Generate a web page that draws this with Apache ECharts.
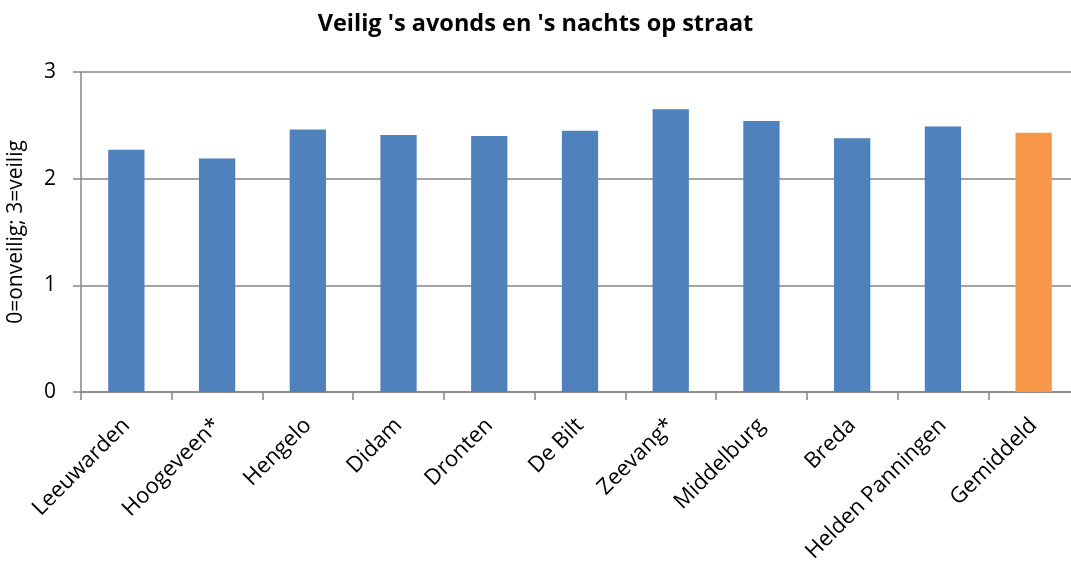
<!DOCTYPE html>
<html>
<head>
<meta charset="utf-8">
<script src="https://cdn.jsdelivr.net/npm/echarts@6/dist/echarts.min.js"></script>
<style>
    html, body { margin: 0; padding: 0; background: #fff; }
    #chart { width: 1071px; height: 561px; }
</style>
</head>
<body>
<div id="chart"></div>
<script>
// categorieën (gemeenten) en scores
const categories = ['Leeuwarden', 'Hoogeveen*', 'Hengelo', 'Didam', 'Dronten', 'De Bilt', 'Zeevang*', 'Middelburg', 'Breda', 'Helden Panningen', 'Gemiddeld'];
const scores = [2.27, 2.19, 2.46, 2.41, 2.40, 2.45, 2.65, 2.54, 2.38, 2.49, 2.43];
const highlightCategory = 'Gemiddeld';
const yMin = 0;
const yMax = 3;
const yStep = 1;

const fontFamily = '"Open Sans", sans-serif';
const axisGrey = '#868686';

const chartInstance = echarts.init(document.getElementById('chart'));

const option = {
    animation: false,
    title: {
        text: "Veilig 's avonds en 's nachts op straat",
        left: 'center',
        top: 7,
        textStyle: {
            fontFamily: fontFamily,
            fontSize: 23.5,
            fontWeight: 'bold',
            color: '#000',
        },
    },
    grid: {
        left: 81,
        top: 72,
        width: 998, // loopt net buiten het beeld, zoals het origineel
        height: 320,
        outerBoundsMode: 'none',
    },
    xAxis: {
        type: 'category',
        data: categories,
        axisLine: { lineStyle: { color: axisGrey, width: 1.5 } },
        axisTick: { show: true, length: 8, lineStyle: { color: axisGrey, width: 1.5 } },
        axisLabel: {
            rotate: 45,
            interval: 0,
            margin: 30,
            fontFamily: fontFamily,
            fontSize: 22,
            color: '#000',
        },
    },
    yAxis: {
        type: 'value',
        min: yMin,
        max: yMax,
        interval: yStep,
        name: '0=onveilig; 3=veilig',
        nameLocation: 'middle',
        nameRotate: 90,
        nameGap: 54,
        nameTextStyle: {
            fontFamily: fontFamily,
            fontSize: 21,
            color: '#000',
        },
        axisLine: { show: true, lineStyle: { color: axisGrey, width: 1.5 } },
        axisTick: { show: true, inside: false, length: 8, lineStyle: { color: axisGrey, width: 1.5 } },
        axisLabel: {
            margin: 25,
            fontFamily: fontFamily,
            fontSize: 21,
            color: '#000',
        },
        splitLine: { lineStyle: { color: axisGrey, width: 1.5 } },
    },
    series: [
        {
            type: 'bar',
            barWidth: '40%',
            data: scores.map((value, index) => ({
                value: value,
                itemStyle: {
                    color: categories[index] === highlightCategory ? '#F79646' : '#4F81BD',
                },
            })),
        },
    ],
};

chartInstance.setOption(option);
</script>
</body>
</html>
